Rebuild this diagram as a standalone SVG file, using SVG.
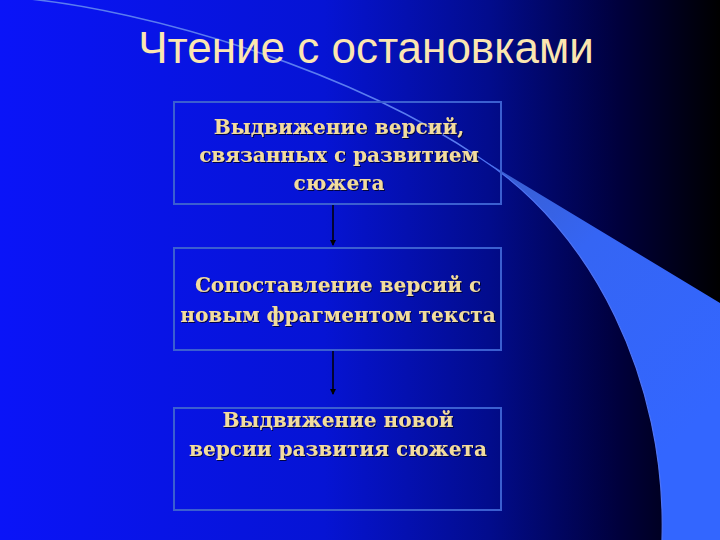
<svg xmlns="http://www.w3.org/2000/svg" width="720" height="540" viewBox="0 0 720 540">
  <defs>
    <linearGradient id="bg" x1="0" y1="0" x2="1" y2="0">
      <stop offset="0" stop-color="#0a14f8"/>
      <stop offset="0.45" stop-color="#0614d4"/>
      <stop offset="0.68" stop-color="#020c8c"/>
      <stop offset="0.86" stop-color="#00003c"/>
      <stop offset="1" stop-color="#000000"/>
    </linearGradient>
    <linearGradient id="wedge" x1="480" y1="158" x2="720" y2="400" gradientUnits="userSpaceOnUse">
      <stop offset="0" stop-color="#3a5cc8"/>
      <stop offset="0.4" stop-color="#3565f4"/>
      <stop offset="1" stop-color="#3366ff"/>
    </linearGradient>
    <marker id="arr" markerWidth="6" markerHeight="6" refX="5" refY="3" orient="auto" markerUnits="userSpaceOnUse">
      <path d="M0,0 L6,3 L0,6 Z" fill="#000"/>
    </marker>
    <filter id="sh" x="-5%" y="-20%" width="110%" height="140%">
      <feDropShadow dx="1" dy="1" stdDeviation="0.6" flood-color="#000020" flood-opacity="0.8"/>
    </filter>
    <style>
      .box { fill: none; stroke: #3b5fd0; stroke-width: 2; }
      .lbl { font-family: "DejaVu Serif", "Liberation Serif", serif; font-weight: bold; font-size: 20px; fill: #f2dc9e; text-anchor: middle; }
      .title { font-family: "Liberation Sans", Arial, sans-serif; font-size: 44px; fill: #fbe6b0; text-anchor: middle; }
      .conn { stroke: #000; stroke-width: 1.5; fill: none; }
    </style>
  </defs>

  <rect x="0" y="0" width="720" height="540" fill="url(#bg)"/>
  <path d="M480,158 L720,303 L720,540 L662,540 C667,380 592,230 480,158 Z" fill="url(#wedge)"/>
  <path d="M20,-2 C150,10 350,70 480,158" fill="none" stroke="#5a7cf0" stroke-width="1.5"/>
  <path d="M480,158 C592,230 667,380 662,540" fill="none" stroke="#4f74f4" stroke-width="1.2"/>

  <text class="title" x="366" y="63">Чтение с остановками</text>

  <g id="connectors">
    <line class="conn" x1="333" y1="205" x2="333" y2="245" marker-end="url(#arr)"/>
    <line class="conn" x1="333" y1="351" x2="333" y2="394" marker-end="url(#arr)"/>
  </g>

  <g id="node1">
    <rect class="box" x="174" y="102" width="327" height="102"/>
    <text class="lbl" filter="url(#sh)" x="339" y="134">Выдвижение версий,</text>
    <text class="lbl" filter="url(#sh)" x="339" y="162">связанных с развитием</text>
    <text class="lbl" filter="url(#sh)" x="339" y="190">сюжета</text>
  </g>

  <g id="node2">
    <rect class="box" x="174" y="248" width="327" height="102"/>
    <text class="lbl" filter="url(#sh)" x="338" y="292">Сопоставление версий с</text>
    <text class="lbl" filter="url(#sh)" x="338" y="322">новым фрагментом текста</text>
  </g>

  <g id="node3">
    <rect class="box" x="174" y="408" width="327" height="102"/>
    <text class="lbl" filter="url(#sh)" x="338" y="427">Выдвижение новой</text>
    <text class="lbl" filter="url(#sh)" x="338" y="456">версии развития сюжета</text>
  </g>
</svg>
